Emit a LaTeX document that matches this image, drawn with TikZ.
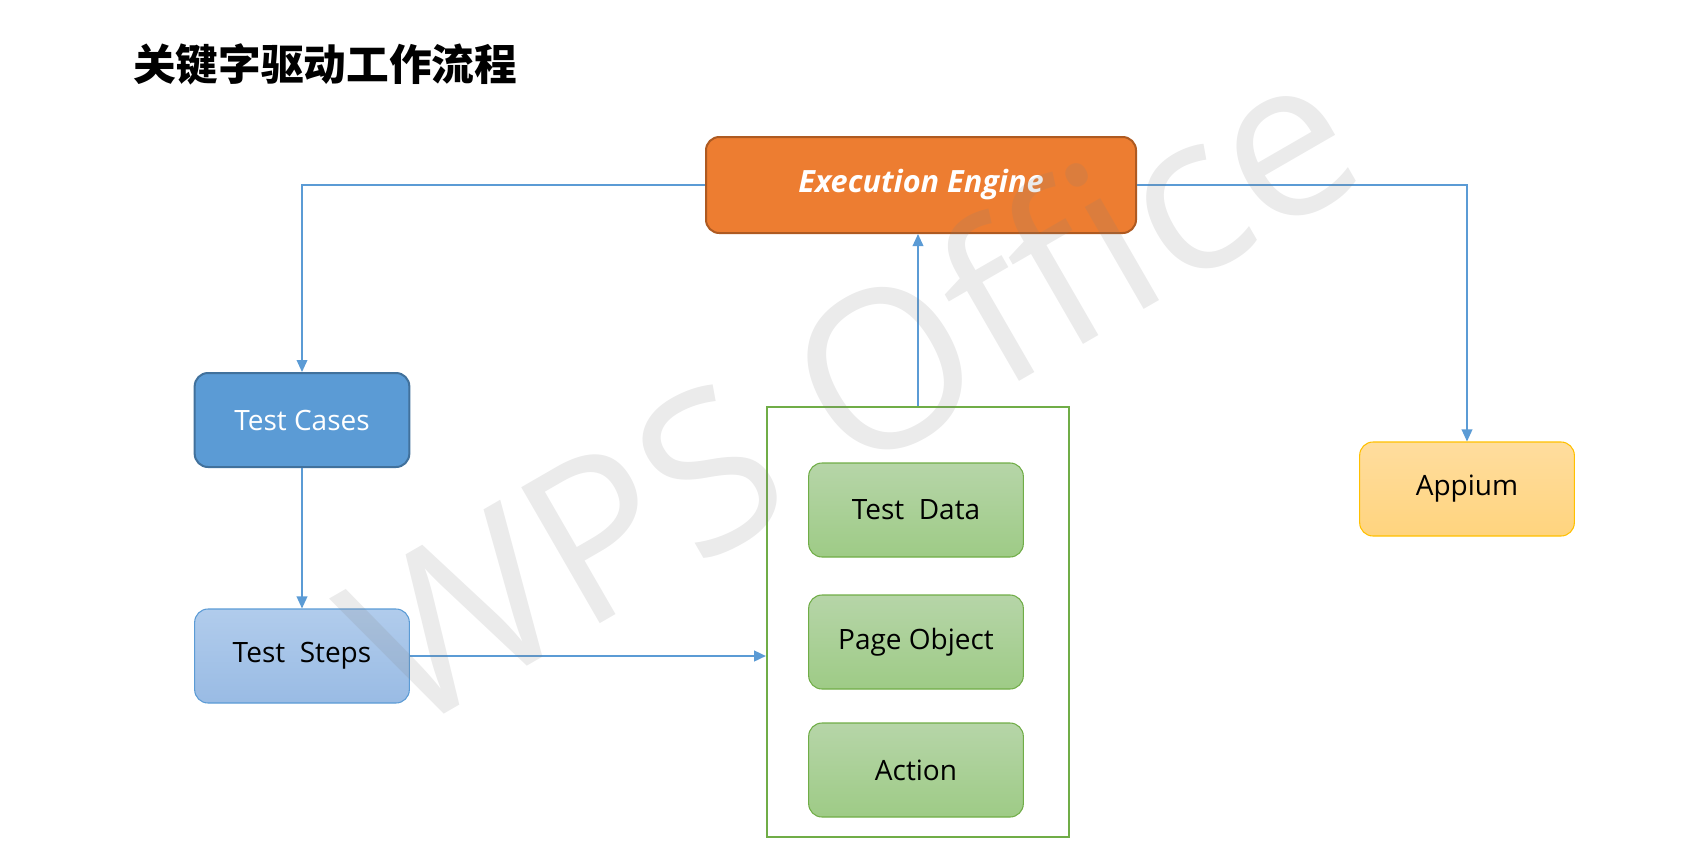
\documentclass[tikz,border=0pt]{standalone}
\usepackage{fontspec}
\setmainfont{Open Sans}
\newfontfamily\cjk{Noto Sans CJK SC}
\usetikzlibrary{arrows.meta}

\definecolor{engineorange}{HTML}{ED7D31}
\definecolor{enginedark}{HTML}{AE5A21}
\definecolor{caseblue}{HTML}{5B9BD5}
\definecolor{casedark}{HTML}{41719C}
\definecolor{steptop}{HTML}{B1CCEC}
\definecolor{stepbottom}{HTML}{99BBE4}
\definecolor{greentop}{HTML}{B6D5A8}
\definecolor{greenbottom}{HTML}{9ECB86}
\definecolor{greenline}{HTML}{70AD47}
\definecolor{appiumtop}{HTML}{FFDD9E}
\definecolor{appiumbottom}{HTML}{FFD47E}
\definecolor{appiumline}{HTML}{FFC000}

\tikzset{
  box/.style={rounded corners=10pt, minimum width=161pt, minimum height=70.5pt,
    inner sep=0pt, line width=0.8pt, font=\fontsize{21pt}{25pt}\selectfont},
  casebox/.style={box, fill=caseblue, draw=casedark, line width=1.5pt, text=white},
  stepbox/.style={box, top color=steptop, bottom color=stepbottom, draw=caseblue},
  toolbox/.style={box, top color=greentop, bottom color=greenbottom, draw=greenline},
  appiumbox/.style={box, top color=appiumtop, bottom color=appiumbottom, draw=appiumline},
  link/.style={draw=caseblue, line width=1.1pt, -{Triangle[length=9pt,width=8pt]}},
}

\begin{document}
\begin{tikzpicture}[x=0.75pt,y=-0.75pt]
\useasboundingbox (0,0) rectangle (1706,861);

\node[anchor=west, inner sep=0pt, font=\cjk\bfseries\fontsize{32pt}{36pt}\selectfont] (title) at (133,64) {关键字驱动工作流程};

\node[box, minimum width=322.5pt, minimum height=72pt, fill=engineorange, draw=enginedark,
  line width=1.5pt, text=white, font=\bfseries\itshape\fontsize{23pt}{27pt}\selectfont] (engine) at (921,185) {Execution Engine};

\node[casebox] (cases) at (302,420) {Test Cases};
\node[stepbox] (steps) at (302,656) {Test\ \ Steps};

\node[draw=greenline, line width=1.5pt, minimum width=226.5pt, minimum height=322.5pt] (tools) at (918,622) {};
\node[toolbox] (data) at (916,510) {Test\ \ Data};
\node[toolbox] (page) at (916,642) {Page Object};
\node[toolbox] (action) at (916,770) {Action};

\node[appiumbox] (appium) at (1467,489) {Appium};

\draw[link] (engine.west) -| (cases.north);
\draw[link] (engine.east) -| (appium.north);
\draw[link] (cases) -- (steps);
\draw[link, line width=1.8pt] (steps.east) -- (steps.east -| tools.west);
\draw[link] (tools.north) -- (tools.north |- engine.south);

% watermark
\node[rotate=30, text=black!50, text opacity=0.16, font=\fontsize{165pt}{165pt}\selectfont] (mark) at (848,385) {WPS Office};
\end{tikzpicture}
\end{document}
